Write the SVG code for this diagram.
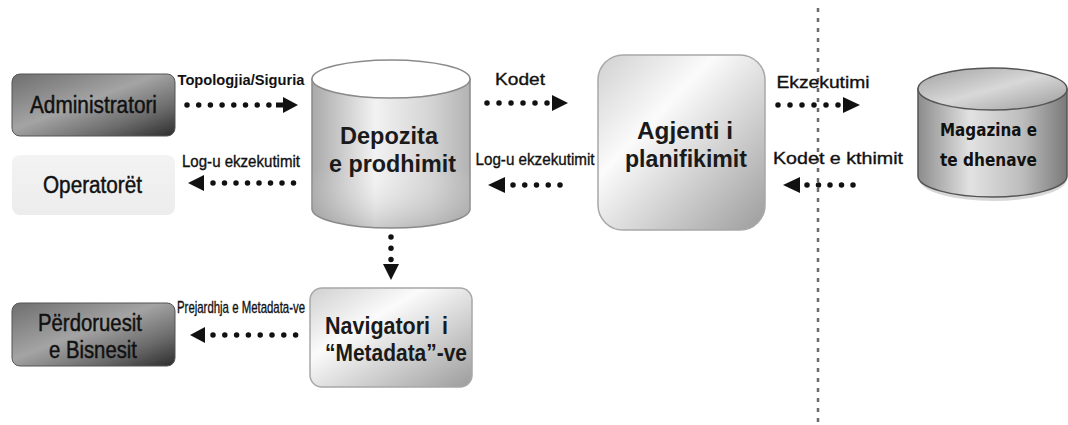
<svg xmlns="http://www.w3.org/2000/svg" width="1068" height="425" viewBox="0 0 1068 425">
  <defs>
    <linearGradient id="gDark" x1="0" y1="0" x2="1" y2="1">
      <stop offset="0" stop-color="#6e6e6e"/>
      <stop offset="0.45" stop-color="#a4a4a4"/>
      <stop offset="0.75" stop-color="#6a6a6a"/>
      <stop offset="1" stop-color="#2c2c2c"/>
    </linearGradient>
    <linearGradient id="gPale" x1="0" y1="0" x2="0" y2="1">
      <stop offset="0" stop-color="#f3f3f3"/>
      <stop offset="1" stop-color="#ececec"/>
    </linearGradient>
    <linearGradient id="gBox" x1="0" y1="0" x2="1" y2="1">
      <stop offset="0" stop-color="#d0d0d0"/>
      <stop offset="0.35" stop-color="#fbfbfb"/>
      <stop offset="0.7" stop-color="#c8c8c8"/>
      <stop offset="1" stop-color="#9c9c9c"/>
    </linearGradient>
    <linearGradient id="gCyl" x1="0" y1="0" x2="1" y2="0">
      <stop offset="0" stop-color="#a9a9a9"/>
      <stop offset="0.4" stop-color="#f2f2f2"/>
      <stop offset="0.75" stop-color="#d4d4d4"/>
      <stop offset="1" stop-color="#b3b3b3"/>
    </linearGradient>
    <linearGradient id="gCylShade" x1="0" y1="0" x2="0" y2="1">
      <stop offset="0" stop-color="#ffffff" stop-opacity="0"/>
      <stop offset="0.6" stop-color="#ffffff" stop-opacity="0"/>
      <stop offset="1" stop-color="#808080" stop-opacity="0.35"/>
    </linearGradient>
    <linearGradient id="gStore" x1="0" y1="0" x2="1" y2="0">
      <stop offset="0" stop-color="#8c8c8c"/>
      <stop offset="0.35" stop-color="#e2e2e2"/>
      <stop offset="0.7" stop-color="#bdbdbd"/>
      <stop offset="1" stop-color="#7a7a7a"/>
    </linearGradient>
    <linearGradient id="gStoreTop" x1="0" y1="0" x2="1" y2="1">
      <stop offset="0" stop-color="#a0a0a0"/>
      <stop offset="0.5" stop-color="#d8d8d8"/>
      <stop offset="1" stop-color="#9a9a9a"/>
    </linearGradient>
    <filter id="soft" x="-10%" y="-10%" width="120%" height="130%">
      <feGaussianBlur stdDeviation="0.6"/>
    </filter>
  </defs>
  <style>
    .lbl { font-family: "Liberation Sans", Arial, sans-serif; fill: #111; text-anchor: middle; dominant-baseline: central; }
    .node { font-size: 23px; stroke: #111; stroke-width: 0.45; }
    .big { font-size: 24px; font-weight: bold; fill: #1a1a1a; }
    .edge { font-size: 15px; font-weight: bold; }
    .reg { font-size: 17px; stroke: #111; stroke-width: 0.35; }
    .store { font-family: "DejaVu Sans", sans-serif; font-size: 17px; font-weight: bold; fill: #111; text-anchor: middle; dominant-baseline: central; }
    .dots { stroke: #111; stroke-width: 5.5; stroke-linecap: round; fill: none; }
    .head { fill: #111; }
    .divider { stroke: #6a6a6a; stroke-width: 2.5; stroke-dasharray: 4 6; fill: none; }
  </style>

  <rect width="1068" height="425" fill="#ffffff"/>

  <!-- boundary line -->
  <line class="divider" x1="818" y1="8" x2="818" y2="425"/>

  <!-- connectors -->
  <g id="connectors">
    <!-- Administratori -> Depozita -->
    <text class="lbl edge" x="241" y="79" textLength="127" lengthAdjust="spacingAndGlyphs">Topologjia/Siguria</text>
    <line class="dots" x1="187" y1="105" x2="269.5" y2="105" stroke-dasharray="0 11.7"/>
    <polygon class="head" points="276,102.5 283,102.5 283,97 298,105 283,113 283,107.5 276,107.5"/>

    <!-- Depozita -> Operatoret -->
    <text class="lbl reg" x="241" y="161" textLength="118" lengthAdjust="spacingAndGlyphs">Log-u ekzekutimit</text>
    <polygon class="head" points="188,183 204,175 204,191"/>
    <line class="dots" x1="213" y1="183" x2="294.5" y2="183" stroke-dasharray="0 11.5"/>

    <!-- Depozita -> Agjenti -->
    <text class="lbl reg" x="520" y="79" font-size="19" textLength="50" lengthAdjust="spacingAndGlyphs">Kodet</text>
    <line class="dots" x1="487" y1="103" x2="548.5" y2="103" stroke-dasharray="0 12"/>
    <polygon class="head" points="552,95 568,103 552,111"/>

    <!-- Agjenti -> Depozita -->
    <text class="lbl reg" x="535" y="159" textLength="119" lengthAdjust="spacingAndGlyphs">Log-u ekzekutimit</text>
    <polygon class="head" points="488,185 505,177 505,193"/>
    <line class="dots" x1="513" y1="185" x2="561.5" y2="185" stroke-dasharray="0 11.75"/>

    <!-- Agjenti -> Magazina -->
    <text class="lbl reg" x="823" y="82" font-size="19" textLength="93" lengthAdjust="spacingAndGlyphs">Ekzekutimi</text>
    <line class="dots" x1="778" y1="105" x2="838.5" y2="105" stroke-dasharray="0 12"/>
    <polygon class="head" points="843,97 860,105 843,113"/>

    <!-- Magazina -> Agjenti -->
    <text class="lbl reg" x="838" y="158" font-size="19" textLength="130" lengthAdjust="spacingAndGlyphs">Kodet e kthimit</text>
    <polygon class="head" points="783,185 800,177 800,193"/>
    <line class="dots" x1="807" y1="185" x2="853.5" y2="185" stroke-dasharray="0 11.5"/>

    <!-- Depozita -> Navigatori -->
    <line class="dots" x1="391" y1="237" x2="391" y2="259.5" stroke-dasharray="0 11.2"/>
    <polygon class="head" points="383,264 399,264 391,280"/>

    <!-- Navigatori -> Perdoruesit -->
    <text class="lbl reg" x="241" y="307" font-size="16" textLength="128" lengthAdjust="spacingAndGlyphs">Prejardhja e Metadata-ve</text>
    <polygon class="head" points="190,335 205,327 205,343"/>
    <line class="dots" x1="213" y1="335" x2="296.5" y2="335" stroke-dasharray="0 11.8"/>
  </g>

  <!-- Administratori -->
  <g id="administratori">
    <rect x="12" y="74" width="163" height="62" rx="8" fill="url(#gDark)" stroke="#555" stroke-width="1" filter="url(#soft)"/>
    <text class="lbl node" x="93.5" y="105" textLength="127" lengthAdjust="spacingAndGlyphs">Administratori</text>
  </g>

  <!-- Operatoret -->
  <g id="operatoret">
    <rect x="12" y="155" width="163" height="60" rx="8" fill="url(#gPale)" filter="url(#soft)"/>
    <text class="lbl node" x="92.5" y="185" textLength="99" lengthAdjust="spacingAndGlyphs">Operatorët</text>
  </g>

  <!-- Perdoruesit e Bisnesit -->
  <g id="perdoruesit">
    <rect x="12" y="303" width="163" height="63" rx="8" fill="url(#gDark)" stroke="#555" stroke-width="1" filter="url(#soft)"/>
    <text class="lbl node" x="90" y="323" textLength="104" lengthAdjust="spacingAndGlyphs">Përdoruesit</text>
    <text class="lbl node" x="93" y="350" textLength="88" lengthAdjust="spacingAndGlyphs">e Bisnesit</text>
  </g>

  <!-- Depozita e prodhimit -->
  <g id="depozita">
    <path d="M312,79 L312,209 A79,19 0 0 0 470,209 L470,79 Z" fill="url(#gCyl)" stroke="#8a8a8a" stroke-width="1.5"/>
    <path d="M312,79 L312,209 A79,19 0 0 0 470,209 L470,79 Z" fill="url(#gCylShade)"/>
    <ellipse cx="391" cy="79" rx="79" ry="19" fill="#ffffff" stroke="#8a8a8a" stroke-width="1.5"/>
    <text class="lbl big" x="389" y="135" textLength="98" lengthAdjust="spacingAndGlyphs">Depozita</text>
    <text class="lbl big" x="392.5" y="163" textLength="127" lengthAdjust="spacingAndGlyphs">e prodhimit</text>
  </g>

  <!-- Agjenti i planifikimit -->
  <g id="agjenti">
    <rect x="598" y="55" width="167" height="175" rx="25" fill="url(#gBox)" stroke="#a8a8a8" stroke-width="1.5"/>
    <text class="lbl big" x="685" y="130" font-size="25" textLength="96" lengthAdjust="spacingAndGlyphs">Agjenti i</text>
    <text class="lbl big" x="686" y="158" font-size="25" textLength="122" lengthAdjust="spacingAndGlyphs">planifikimit</text>
  </g>

  <!-- Navigatori i Metadata-ve -->
  <g id="navigatori">
    <rect x="310" y="288" width="162" height="99" rx="12" fill="url(#gBox)" stroke="#a8a8a8" stroke-width="1.5"/>
    <text class="lbl big" x="386.5" y="325" font-size="23" textLength="123" lengthAdjust="spacingAndGlyphs">Navigatori&#160; i</text>
    <text class="lbl big" x="396" y="352" font-size="23" textLength="142" lengthAdjust="spacingAndGlyphs">“Metadata”-ve</text>
  </g>

  <!-- Magazina e te dhenave -->
  <g id="magazina">
    <ellipse cx="993" cy="179" rx="74" ry="22" fill="#000" opacity="0.15" filter="url(#soft)"/>
    <path d="M918,89 L918,176 A74.5,21 0 0 0 1067,176 L1067,89 Z" fill="url(#gStore)" stroke="#555" stroke-width="1.5"/>
    <ellipse cx="992.5" cy="89" rx="74.5" ry="21" fill="url(#gStoreTop)" stroke="#555" stroke-width="1.5"/>
    <text class="store" x="988.5" y="130" textLength="97" lengthAdjust="spacingAndGlyphs">Magazina e</text>
    <text class="store" x="988.5" y="160" textLength="97" lengthAdjust="spacingAndGlyphs">te dhenave</text>
  </g>
</svg>
